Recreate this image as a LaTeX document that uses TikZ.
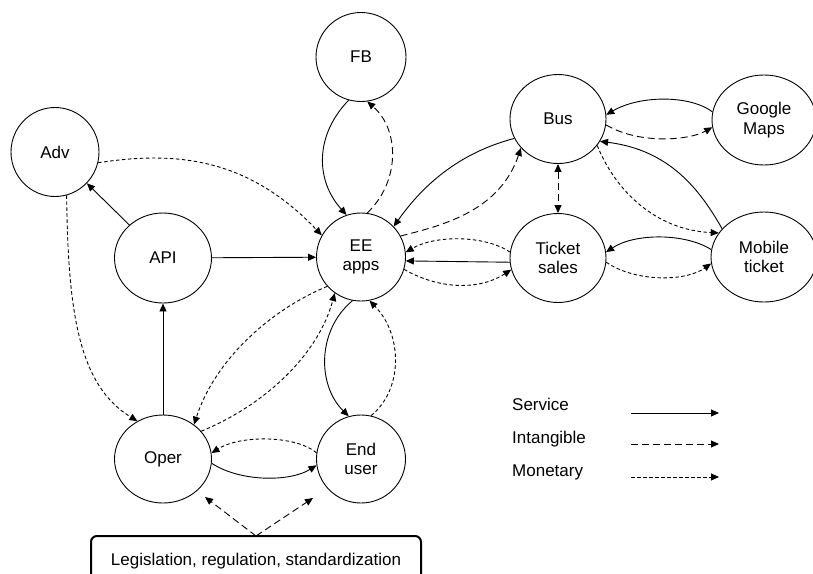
\documentclass[tikz,border=0pt]{standalone}
\usepackage{fontspec}
\setmainfont{Liberation Sans}
\usetikzlibrary{arrows.meta,shapes.geometric,calc}

\begin{document}
\begin{tikzpicture}[x=1pt,y=-1pt,
  font=\fontsize{17}{19.5}\selectfont,
  >={Triangle[length=8pt,width=7pt]},
  actor/.style={draw, ellipse, line width=0.9pt, inner sep=0pt, align=center},
  service/.style={draw, line width=0.9pt, ->},
  intang/.style={service, dash pattern=on 7pt off 4pt},
  monet/.style={service, dash pattern=on 3.5pt off 2.5pt},
  legtext/.style={anchor=west, inner sep=0pt},
]
\useasboundingbox (0,0) rectangle (813,573);

% actors
\node[actor, minimum width=90pt, minimum height=89pt] (FB) at (361,57) {FB};
\node[actor, minimum width=88pt, minimum height=89pt] (Adv) at (55,152) {Adv};
\node[actor, minimum width=97pt, minimum height=90pt] (API) at (163,258) {API};
\node[actor, minimum width=89pt, minimum height=88pt] (EE) at (361,257) {EE\\apps};
\node[actor, minimum width=97pt, minimum height=88pt] (Oper) at (163,459) {Oper};
\node[actor, minimum width=89pt, minimum height=88pt] (End) at (361,459) {End\\user};
\node[actor, minimum width=96pt, minimum height=89pt] (Bus) at (558,119) {Bus};
\node[actor, minimum width=104pt, minimum height=90pt] (GM) at (764,120) {Google\\Maps};
\node[actor, minimum width=96pt, minimum height=89pt] (Ticket) at (558,258) {Ticket\\sales};
\node[actor, minimum width=106pt, minimum height=90pt] (Mobile) at (764,257) {Mobile\\ticket};

\node[draw, line width=2pt, rounded corners=6pt, outer sep=0pt,
      minimum width=330pt, minimum height=50pt, anchor=north] (Leg) at (256,536)
      {Legislation, regulation, standardization};

% left half
\draw[service] (FB.254) .. controls (315,135) and (315,180) .. (EE.109);
\draw[intang] (EE.82) .. controls (400,182) and (400,130) .. (FB.278);
\draw[monet] (Adv.346) .. controls (180,150) and (250,160) .. (EE.151);
\draw[service] (API) -- (Adv);
\draw[service] (API) -- (EE);
\draw[monet] (Adv.285) .. controls (68,310) and (78,385) .. (Oper.124);
\draw[service] (Oper) -- (API);
\draw[monet] (EE.221) .. controls (270,310) and (215,360) .. (Oper.48);
\draw[monet] (Oper.36) .. controls (265,405) and (318,355) .. (EE.234);
\draw[service] (EE.259) .. controls (317,330) and (317,385) .. (End.106);
\draw[monet] (End.77) .. controls (403,390) and (403,335) .. (EE.281);
\draw[monet] (End.172) .. controls (295,435) and (240,435) .. (Oper.7);
\draw[service] (Oper.355) .. controls (240,482) and (290,482) .. (End.188);
\coordinate (tipO) at (205,497);
\coordinate (tipE) at (313,498);
\draw[intang] (Leg.north) -- (tipO);
\draw[intang] (Leg.north) -- (tipE);

% right half
\draw[service] (Bus.204) .. controls (470,150) and (430,175) .. (EE.43);
\draw[intang] (EE.28) .. controls (445,225) and (500,210) .. (Bus.218);
\draw[monet] (Ticket.173) .. controls (485,235) and (435,235) .. (EE.6);
\draw[service] (Ticket.185) -- (EE.355);
\draw[monet] (EE.344) .. controls (440,290) and (480,290) .. (Ticket.194);
\draw[intang, <->] (Bus) -- (Ticket);
\draw[service] (GM.171) .. controls (690,95) and (640,95) .. (Bus.5);
\draw[intang] (Bus.353) .. controls (640,145) and (690,140) .. (GM.188);
\draw[service] (Mobile.146) .. controls (700,190) and (670,150) .. (Bus.332);
\draw[monet] (Bus.326) .. controls (615,190) and (655,230) .. (Mobile.152);
\draw[service] (Mobile.172) .. controls (685,233) and (635,233) .. (Ticket.7);
\draw[monet] (Ticket.355) .. controls (635,282) and (685,282) .. (Mobile.187);

% legend
\node[legtext] (lS) at (512,404) {Service};
\node[legtext] (lI) at (512,439) {Intangible};
\node[legtext] (lM) at (512,472) {Monetary};
\coordinate (sA) at (631,413); \coordinate (sB) at (719,413);
\coordinate (iA) at (631,444); \coordinate (iB) at (719,444);
\coordinate (mA) at (631,477); \coordinate (mB) at (719,477);
\draw[service] (sA) -- (sB);
\draw[intang] (iA) -- (iB);
\draw[monet] (mA) -- (mB);
\end{tikzpicture}
\end{document}
